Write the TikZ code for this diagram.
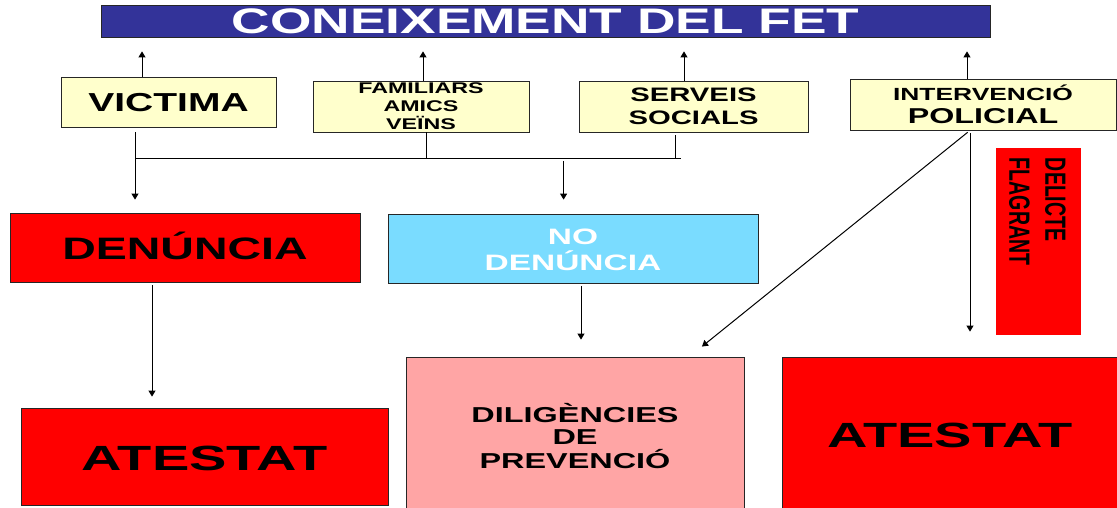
\documentclass[tikz,border=0pt]{standalone}
\usepackage{fontspec}
\setmainfont{Liberation Sans}
\usetikzlibrary{arrows.meta}
\definecolor{titleblue}{HTML}{333399}
\definecolor{paleyellow}{HTML}{FFFFCC}
\definecolor{skyblue}{HTML}{7ADCFF}
\definecolor{rosepink}{HTML}{FFA5A5}
\definecolor{boxred}{HTML}{FF0000}
\newcommand{\hs}[1]{\scalebox{1.5}[1]{#1}}
\newcommand{\hsw}[1]{\scalebox{1.6}[1]{#1}}
\newcommand{\fsz}[2]{\fontsize{#1}{#2}\selectfont}
\begin{document}
\begin{tikzpicture}[x=1pt,y=-1pt,
  box/.style={draw=black!85, line width=0.8pt, inner sep=0pt, font=\bfseries, text depth=0pt},
  conn/.style={line width=1pt, black},
  arr/.style={conn, -{Triangle[width=7pt,length=6pt]}}]
\useasboundingbox (0,0) rectangle (1117,508);
\clip (0,0) rectangle (1117,508);

\node[box, fill=titleblue, text=white, minimum width=889pt, minimum height=32pt, text height=25.5pt] (title) at (545.5,21) {\hs{\fsz{35.5}{40}CONEIXEMENT DEL FET}};

\node[box, fill=paleyellow, minimum width=215pt, minimum height=50pt, text height=18.7pt] (vic) at (168.5,102) {\hs{\fsz{26}{30}VICTIMA}};
\node[box, fill=paleyellow, minimum width=216pt, minimum height=51pt, text height=47pt] (fam) at (421,106.5) {\hs{\fsz{15.5}{18}\begin{tabular}[b]{@{}c@{}}FAMILIARS\\AMICS\\VEÏNS\end{tabular}}};
\node[box, fill=paleyellow, minimum width=229pt, minimum height=51pt, text height=37pt] (serv) at (693.5,106.5) {\hs{\fsz{19.5}{23}\begin{tabular}[b]{@{}c@{}}SERVEIS\\SOCIALS\end{tabular}}};
\node[box, fill=paleyellow, minimum width=266pt, minimum height=51pt, text height=38.5pt] (pol) at (983,104.5) {\hs{\fsz{17.6}{23}\begin{tabular}[b]{@{}c@{}}INTERVENCIÓ\\\fsz{21.5}{23}POLICIAL\end{tabular}}};

\node[box, fill=boxred, minimum width=350pt, minimum height=69pt, text height=24.3pt] (den) at (185,247.5) {\hs{\fsz{31}{36}DENÚNCIA}};
\node[box, fill=skyblue, text=white, minimum width=370pt, minimum height=69pt, text height=44.8pt] (noden) at (573,248.5) {\hs{\fsz{22.3}{27}\begin{tabular}[b]{@{}c@{}}NO\\[-1pt]DENÚNCIA\end{tabular}}};

\node[box, fill=boxred, minimum width=367pt, minimum height=97pt, text height=27.2pt] (aleft) at (204.5,456.5) {\hsw{\fsz{35}{40}ATESTAT}};
\node[box, fill=rosepink, minimum width=338pt, minimum height=162pt, text height=60.5pt] (dil) at (575,438) {\hs{\fsz{21.6}{22}\begin{tabular}[b]{@{}c@{}}DILIGÈNCIES\\DE\\[-2pt]PREVENCIÓ\end{tabular}}};
\node[box, fill=boxred, minimum width=336pt, minimum height=155pt, text height=25.2pt] (aright) at (950,434.5) {\hsw{\fsz{35}{40}ATESTAT}};

\node[fill=boxred, inner sep=0pt, minimum width=85pt, minimum height=187pt, text height=0pt, text depth=167pt, font=\bfseries] (flag) at (1038.5,241.5) {\hspace*{-8pt}\hs{\rotatebox{-90}{\fsz{19.5}{24}\begin{tabular}[b]{@{}l@{}}DELICTE\\FLAGRANT\end{tabular}}}};

% arrows up to the title
\draw[arr, shorten >=14pt] (vic.north -| 142,0) -- (title.south -| 142,0);
\draw[arr, shorten >=14pt] (fam.north -| 423,0) -- (title.south -| 423,0);
\draw[arr, shorten >=14pt] (serv.north -| 684,0) -- (title.south -| 684,0);
\draw[arr, shorten >=14pt] (pol.north -| 967,0) -- (title.south -| 967,0);

% collecting bus
\coordinate (busL) at (135,159);
\coordinate (busR) at (681,159);
\draw[conn] (busL) -- (busR);
\draw[arr, shorten <=5pt, shorten >=13pt] (vic.south -| busL) -- (den.north -| busL);
\draw[conn] (fam.south -| 426.5,0) -- (busL -| 426.5,0);
\draw[conn, shorten <=3pt] (serv.south -| 675,0) -- (busL -| 675,0);
\draw[arr, shorten <=2pt, shorten >=14pt] (busL -| 563.6,0) -- (noden.north -| 563.6,0);

% lower arrows
\draw[arr, shorten <=3pt, shorten >=11pt] (den.south -| 152,0) -- (aleft.north -| 152,0);
\draw[arr, shorten <=3pt, shorten >=17pt] (noden.south -| 581,0) -- (dil.north -| 581,0);
\draw[arr, shorten <=3pt, shorten >=16pt] (pol.south -| 970,0) -- (dil.north -| 689.5,0);
\draw[arr, shorten <=3pt, shorten >=25pt] (pol.south -| 970,0) -- (aright.north -| 970,0);
\end{tikzpicture}
\end{document}
